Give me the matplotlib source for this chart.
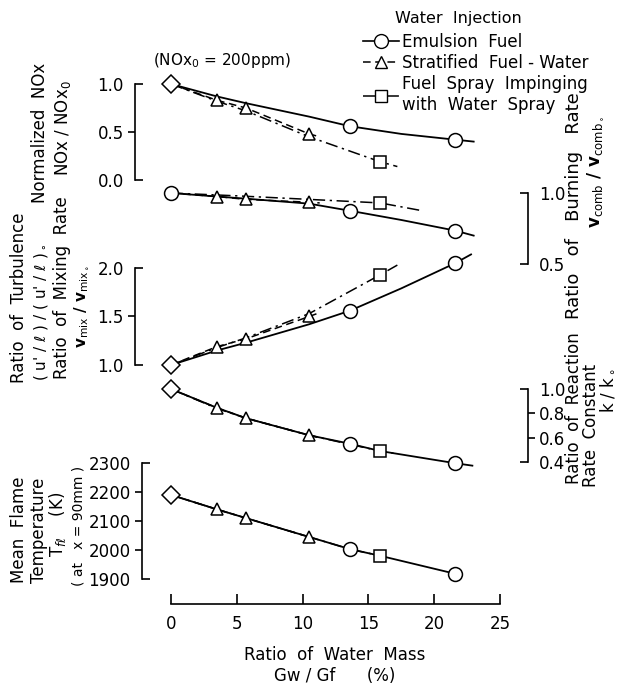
import matplotlib
matplotlib.use("Agg")
import matplotlib.pyplot as plt
from matplotlib.lines import Line2D

W, H = 621, 684
plt.rcParams['font.family'] = ['DejaVu Sans']
plt.rcParams['mathtext.fontset'] = 'dejavusans'

# ---- data ----
# marker positions, water mass ratio Gw/Gf (%)
x_base = [0.0]
x_strat = [3.5, 5.7, 10.5]
x_emul = [13.6, 21.6]
x_spray = [15.9]

# normalized NOx
nox_base = [1.0]
nox_strat = [0.83, 0.75, 0.48]
nox_emul = [0.56, 0.42]
nox_spray = [0.19]
nox_emul_lx = [0, 3.5, 5.7, 10.5, 13.6, 17.5, 21.6, 23.0]
nox_emul_ly = [1.0, 0.87, 0.80, 0.66, 0.56, 0.48, 0.42, 0.40]
nox_strat_lx = [0, 3.5, 5.7, 10.5, 11.3]
nox_strat_ly = [1.0, 0.83, 0.75, 0.48, 0.45]
nox_spray_lx = [0, 3.5, 5.7, 10.5, 15.9, 17.2]
nox_spray_ly = [1.0, 0.82, 0.72, 0.45, 0.19, 0.14]

# ratio of burning rate
burn_base = [1.0]
burn_strat = [0.975, 0.955, 0.935]
burn_emul = [0.875, 0.735]
burn_spray = [0.93]
burn_emul_lx = [0, 3.5, 5.7, 10.5, 13.6, 17.5, 21.6, 23.0]
burn_emul_ly = [1.0, 0.975, 0.96, 0.925, 0.875, 0.81, 0.735, 0.70]
burn_strat_lx = [0, 3.5, 5.7, 10.5, 11.3]
burn_strat_ly = [1.0, 0.975, 0.955, 0.935, 0.93]
burn_spray_lx = [0, 5.0, 10.5, 15.9, 19.1]
burn_spray_ly = [1.0, 0.98, 0.955, 0.93, 0.875]

# ratio of mixing rate / turbulence
mix_base = [1.0]
mix_strat = [1.19, 1.27, 1.50]
mix_emul = [1.56, 2.05]
mix_spray = [1.93]
mix_emul_lx = [0, 3.5, 5.7, 10.5, 13.6, 17.5, 21.6, 22.8]
mix_emul_ly = [1.0, 1.15, 1.23, 1.42, 1.56, 1.79, 2.05, 2.14]
mix_strat_lx = [0, 3.5, 5.7, 10.5, 11.3]
mix_strat_ly = [1.0, 1.19, 1.27, 1.50, 1.54]
mix_spray_lx = [0, 3.5, 5.7, 10.5, 15.9, 17.2]
mix_spray_ly = [1.0, 1.18, 1.28, 1.53, 1.93, 2.03]

# ratio of reaction rate constant
rr_base = [1.0]
rr_strat = [0.845, 0.76, 0.62]
rr_emul = [0.55, 0.39]
rr_spray = [0.49]
rr_emul_lx = [0, 3.5, 5.7, 10.5, 13.6, 15.9, 21.6, 22.9]
rr_emul_ly = [1.0, 0.845, 0.76, 0.62, 0.55, 0.49, 0.39, 0.37]
rr_strat_lx = [0, 3.5, 5.7, 10.5, 11.3]
rr_strat_ly = [1.0, 0.845, 0.76, 0.62, 0.60]
rr_spray_lx = [0, 3.5, 5.7, 10.5, 13.6, 15.9, 17.0]
rr_spray_ly = [1.0, 0.84, 0.76, 0.62, 0.545, 0.49, 0.47]

# mean flame temperature (K)
temp_base = [2190]
temp_strat = [2140, 2110, 2045]
temp_emul = [2003, 1918]
temp_spray = [1980]
temp_emul_lx = [0, 3.5, 5.7, 10.5, 13.6, 15.9, 21.6]
temp_emul_ly = [2190, 2140, 2110, 2045, 2003, 1980, 1918]
temp_strat_lx = [0, 3.5, 5.7, 10.5]
temp_strat_ly = [2190, 2140, 2110, 2045]
temp_spray_lx = [0, 3.5, 5.7, 10.5, 13.6, 15.9]
temp_spray_ly = [2190, 2140, 2110, 2045, 2003, 1980]

x_ticks = [0, 5, 10, 15, 20, 25]
nox_ticks = [0.0, 0.5, 1.0]
burn_ticks = [0.5, 1.0]
mix_ticks = [1.0, 1.5, 2.0]
rr_ticks = [0.4, 0.6, 0.8, 1.0]
temp_ticks = [1900, 2000, 2100, 2200, 2300]

# ---- layout (pixels) ----
X0, X1 = 171, 500
fig = plt.figure(figsize=(W / 100, H / 100), dpi=100)

LS_EMUL = '-'
LS_STRAT = (0, (5, 3))
LS_SPRAY = (0, (8, 3, 1.5, 3))
mk = dict(mfc='white', mec='black', mew=1.1, linestyle='none', clip_on=False, zorder=5)


def panel(v_top, py_top, v_bot, py_bot, py_lo=None):
    # axes whose y-scale maps v_top -> py_top, v_bot -> py_bot
    if py_lo is None:
        py_lo = py_bot
    scale = (v_top - v_bot) / (py_bot - py_top)
    vmin = v_bot - (py_lo - py_bot) * scale
    ax = fig.add_axes([X0 / W, 1 - py_lo / H, (X1 - X0) / W, (py_lo - py_top) / H])
    ax.set_xlim(0, 25)
    ax.set_ylim(vmin, v_top)
    ax.patch.set_visible(False)
    for s in ax.spines.values():
        s.set_visible(False)
    ax.set_xticks([])
    return ax


def bracket(ax, side, ticks, fmt, offset):
    sp = ax.spines[side]
    sp.set_visible(True)
    sp.set_bounds(ticks[0], ticks[-1])
    sp.set_position(('outward', offset))
    sp.set_linewidth(1.2)
    if side == 'right':
        ax.yaxis.tick_right()
    ends = [ticks[0], ticks[-1]]
    mids = ticks[1:-1]
    ax.set_yticks(ends, labels=[fmt.format(t) for t in ends])
    ax.set_yticks(mids, labels=[fmt.format(t) for t in mids], minor=True)
    ax.tick_params(axis='y', which='major', direction='in', length=6, width=1.2, pad=8, labelsize=12)
    ax.tick_params(axis='y', which='minor', direction='out', length=5, width=1.2, pad=3, labelsize=12)


def series(ax, base, strat, emul, spray, lines, base_marker='D'):
    (ex, ey), (sx, sy), (px, py) = lines
    ax.plot(ex, ey, ls=LS_EMUL, color='black', lw=1.3, clip_on=False)
    ax.plot(sx, sy, ls=LS_STRAT, color='black', lw=1.1, clip_on=False)
    ax.plot(px, py, ls=LS_SPRAY, color='black', lw=1.1, clip_on=False)
    ax.plot(x_base, base, marker=base_marker, ms=9 if base_marker == 'D' else 10, **mk)
    ax.plot(x_strat, strat, marker='^', ms=9, **mk)
    ax.plot(x_emul, emul, marker='o', ms=10, **mk)
    ax.plot(x_spray, spray, marker='s', ms=8, **mk)


ax_nox = panel(1.0, 84, 0.0, 180)
bracket(ax_nox, 'left', nox_ticks, '{:.1f}', 26)
series(ax_nox, nox_base, nox_strat, nox_emul, nox_spray,
       [(nox_emul_lx, nox_emul_ly), (nox_strat_lx, nox_strat_ly), (nox_spray_lx, nox_spray_ly)])

ax_burn = panel(1.0, 193, 0.5, 264)
bracket(ax_burn, 'right', burn_ticks, '{:.1f}', 20)
series(ax_burn, burn_base, burn_strat, burn_emul, burn_spray,
       [(burn_emul_lx, burn_emul_ly), (burn_strat_lx, burn_strat_ly), (burn_spray_lx, burn_spray_ly)],
       base_marker='o')

ax_mix = panel(2.0, 268, 1.0, 365)
bracket(ax_mix, 'left', mix_ticks, '{:.1f}', 26)
series(ax_mix, mix_base, mix_strat, mix_emul, mix_spray,
       [(mix_emul_lx, mix_emul_ly), (mix_strat_lx, mix_strat_ly), (mix_spray_lx, mix_spray_ly)])

ax_rr = panel(1.0, 389, 0.4, 462)
bracket(ax_rr, 'right', rr_ticks, '{:.1f}', 20)
series(ax_rr, rr_base, rr_strat, rr_emul, rr_spray,
       [(rr_emul_lx, rr_emul_ly), (rr_strat_lx, rr_strat_ly), (rr_spray_lx, rr_spray_ly)])

ax_t = panel(2300, 463, 1900, 579, py_lo=604)
bracket(ax_t, 'left', temp_ticks, '{:d}', 21)
series(ax_t, temp_base, temp_strat, temp_emul, temp_spray,
       [(temp_emul_lx, temp_emul_ly), (temp_strat_lx, temp_strat_ly), (temp_spray_lx, temp_spray_ly)])
sb = ax_t.spines['bottom']
sb.set_visible(True)
sb.set_bounds(0, 25)
sb.set_linewidth(1.2)
ax_t.set_xticks(x_ticks, labels=[str(t) for t in x_ticks])
ax_t.tick_params(axis='x', direction='in', length=7, width=1.2, pad=8, labelsize=12)

# ---- texts ----
def ftext(x, y, s, size=12, rot=0, **kw):
    fig.text(x / W, 1 - y / H, s, fontsize=size, rotation=rot, ha='center', va='center', **kw)


ftext(335, 655, 'Ratio  of  Water  Mass')
ftext(335, 676, 'Gw / Gf      (%)')
ftext(222, 60, '(NOx$_0$ = 200ppm)', size=11)

ftext(40, 133, 'Normalized  NOx', rot=90)
ftext(63, 128, 'NOx / NOx$_0$', rot=90)
ftext(19, 298, 'Ratio  of  Turbulence', rot=90)
ftext(41, 312, "( u' / ℓ ) / ( u' / ℓ )$_\\circ$", size=11, rot=90)
ftext(62, 288, 'Ratio  of  Mixing  Rate', rot=90)
ftext(82, 306, 'v$_{\\rm mix}$ / v$_{{\\rm mix}_\\circ}$', size=11, rot=90, weight='bold')
ftext(19, 530, 'Mean  Flame', rot=90)
ftext(39, 530, 'Temperature', rot=90)
ftext(58, 524, 'T$_{f\\ell}$    (K)', rot=90)
ftext(79, 526, '( at   x = 90mm )', size=10, rot=90)

ftext(574, 206, 'Ratio   of   Burning   Rate', size=13, rot=90)
ftext(595, 172, 'v$_{\\rm comb}$ / v$_{{\\rm comb}_\\circ}$', size=12, rot=90, weight='bold')
ftext(574, 408, 'Ratio  of  Reaction', rot=90)
ftext(591, 425, 'Rate  Constant', rot=90)
ftext(608, 390, 'k / k$_\\circ$', rot=90)

# ---- legend ----
ftext(458, 19, 'Water  Injection', size=11.5)
handles = [
    Line2D([], [], color='black', ls=LS_EMUL, lw=1.2, marker='o', ms=10, mfc='white', mec='black'),
    Line2D([], [], color='black', ls=LS_STRAT, lw=1.1, marker='^', ms=9, mfc='white', mec='black'),
    Line2D([], [], color='black', ls=LS_SPRAY, lw=1.1, marker='s', ms=8, mfc='white', mec='black'),
]
labels = ['Emulsion  Fuel', 'Stratified  Fuel - Water', 'Fuel  Spray  Impinging\nwith  Water  Spray']
fig.legend(handles, labels, loc='upper left', bbox_to_anchor=(351 / W, 1 - 21 / H),
           frameon=False, fontsize=12, handlelength=2.2, handletextpad=0.15,
           labelspacing=0.2, borderpad=0.2)

fig.savefig('out.png', dpi=100)
